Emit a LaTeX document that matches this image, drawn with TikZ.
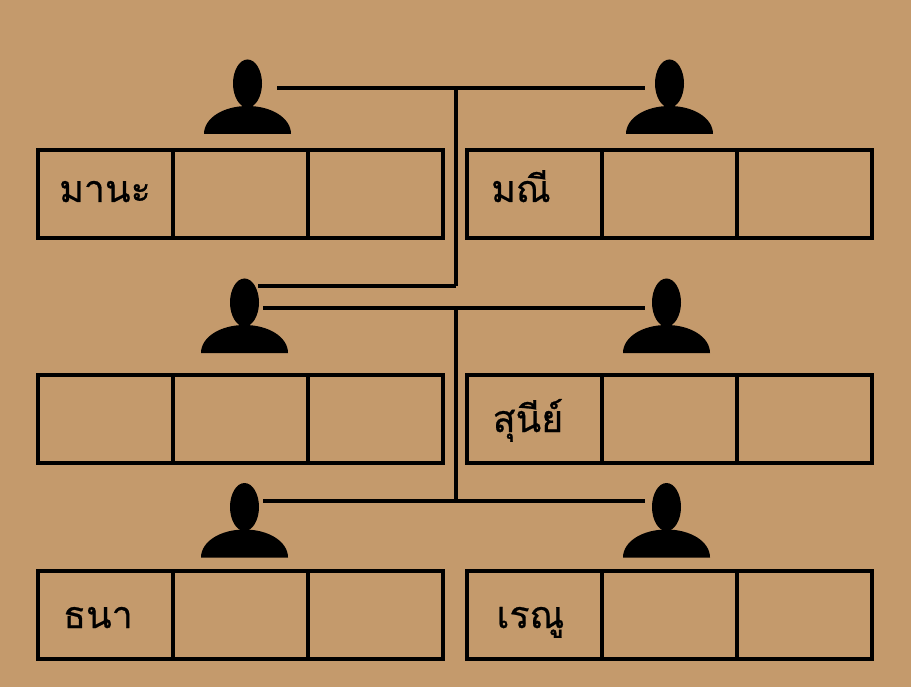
\documentclass[tikz,border=0pt]{standalone}
\usepackage{fontspec}
\usepackage{xcolor}
\newfontfamily\thaifont[Script=Thai,FakeBold=0.6]{Loma}
\definecolor{paper}{HTML}{C49A6C}

\tikzset{
    cell/.style={draw, line width=4pt, minimum width=135pt, minimum height=88pt, inner sep=0pt},
    namelabel/.style={font=\thaifont\fontsize{37.5}{37.5}\selectfont, inner sep=0pt, anchor=base},
    wire/.style={line width=4pt},
    person/.pic={
        \fill (0,-50.5) ellipse [x radius=14.5, y radius=24];
        \fill (-43.5,0) .. controls (-43.5,-16) and (-24,-28) .. (0,-28)
            .. controls (24,-28) and (43.5,-16) .. (43.5,0) -- cycle;
    }
}

\begin{document}
\begin{tikzpicture}[x=1pt, y=-1pt]

    % Background
    \fill[paper] (0,0) rectangle (911,687);
    \useasboundingbox (0,0) rectangle (911,687);

    % People
    \pic at (247.5,134) {person};
    \pic at (669.5,134) {person};
    \pic at (244.5,353) {person};
    \pic at (666.5,353) {person};
    \pic at (244.5,557.5) {person};
    \pic at (666.5,557.5) {person};

    % Top row of boxes
    \node[cell] (maleA) at (105,194) {};
    \node[cell] (maleB) at (240,194) {};
    \node[cell] (maleC) at (375,194) {};
    \node[cell] (femaleA) at (534,194) {};
    \node[cell] (femaleB) at (669,194) {};
    \node[cell] (femaleC) at (804,194) {};

    % Middle row of boxes
    \node[cell] (sonA) at (105,419) {};
    \node[cell] (sonB) at (240,419) {};
    \node[cell] (sonC) at (375,419) {};
    \node[cell] (wifeA) at (534,419) {};
    \node[cell] (wifeB) at (669,419) {};
    \node[cell] (wifeC) at (804,419) {};

    % Bottom row of boxes
    \node[cell] (kidA) at (105,615) {};
    \node[cell] (kidB) at (240,615) {};
    \node[cell] (kidC) at (375,615) {};
    \node[cell] (girlA) at (534,615) {};
    \node[cell] (girlB) at (669,615) {};
    \node[cell] (girlC) at (804,615) {};

    % Names
    \node[namelabel] (mana) at (105,202) {มานะ};
    \node[namelabel] (manee) at (521,202) {มณี};
    \node[namelabel] (sunee) at (528,432) {สุนีย์};
    \node[namelabel] (thana) at (98,628) {ธนา};
    \node[namelabel] (renu) at (530.5,628) {เรณู};

    % Free ends of the family lines
    \coordinate (topL) at (277,88);
    \coordinate (topR) at (645,88);
    \coordinate (topMid) at (455.5,88);
    \coordinate (sonTop) at (258,286);
    \coordinate (sonMid) at (455.5,286);
    \coordinate (midL) at (263,308);
    \coordinate (midR) at (645,308);
    \coordinate (midMid) at (455.5,308);
    \coordinate (lowL) at (263,501);
    \coordinate (lowR) at (645,501);
    \coordinate (lowMid) at (455.5,501);

    \draw[wire] (topL) -- (topR);
    \draw[wire] (topMid) -- (sonMid);
    \draw[wire] (sonTop) -- (sonMid);
    \draw[wire] (midL) -- (midR);
    \draw[wire] (midMid) -- (lowMid);
    \draw[wire] (lowL) -- (lowR);

\end{tikzpicture}
\end{document}
